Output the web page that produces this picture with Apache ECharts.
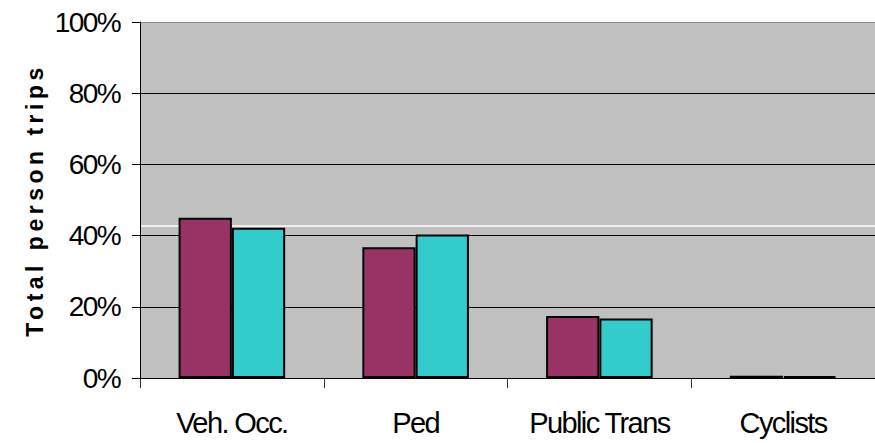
<!DOCTYPE html>
<html>
<head>
<meta charset="utf-8">
<script src="https://cdn.jsdelivr.net/npm/echarts@6/dist/echarts.min.js"></script>
<style>
  html, body { margin: 0; padding: 0; background: #fff; }
  #chart { width: 875px; height: 443px; }
  /* spaced-out lettering for the bold axis title, tighter lettering for tick labels */
  #chart svg text[style*="bold"] { letter-spacing: 4.5px; }
  #chart svg text:not([style*="bold"]) { letter-spacing: -1.6px; }
</style>
</head>
<body>
<div id="chart"></div>
<script>
// Trip mode categories
const categories = ['Veh. Occ.', 'Ped', 'Public Trans', 'Cyclists'];
// Share of total person trips (%), two survey series
const seriesA = [45.0, 36.7, 17.4, 0.6];
const seriesB = [42.2, 40.3, 16.7, 0.5];
// Y-axis tick values (%)
const yTicks = [0, 20, 40, 60, 80, 100];
// Light reference rule across the plot, behind the bars (%)
const refLine = 42.8;

const FONT = '"Liberation Sans", Arial, sans-serif';
const CLEAR = 'rgba(0,0,0,0)';

const chart = echarts.init(document.getElementById('chart'), null, { renderer: 'svg' });

chart.setOption({
  animation: false,
  backgroundColor: '#ffffff',
  grid: {
    left: 140, right: 0, top: 22, bottom: 65,
    show: true, backgroundColor: '#c0c0c0', borderWidth: 0
  },
  xAxis: {
    type: 'category',
    data: categories,
    axisLine: { lineStyle: { color: '#000', width: 1 } },
    axisTick: { show: true, length: 10, lineStyle: { color: '#333' } },
    axisLabel: { color: '#000', fontSize: 29, fontFamily: FONT, margin: 30, interval: 0 }
  },
  yAxis: [
    {
      type: 'value',
      min: yTicks[0],
      max: yTicks[yTicks.length - 1],
      interval: yTicks[1] - yTicks[0],
      name: 'Total person trips',
      nameLocation: 'middle',
      nameRotate: 90,
      nameGap: 94,
      nameMoveOverlap: false,
      nameTextStyle: { color: '#000', fontSize: 23, fontWeight: 'bold', fontFamily: FONT },
      axisLine: { show: true, lineStyle: { color: '#000', width: 1 } },
      axisTick: { show: true, length: 8, lineStyle: { color: '#000' } },
      axisLabel: { color: '#000', fontSize: 28, fontFamily: FONT, margin: 20, formatter: v => v + '%' },
      splitLine: {
        show: true,
        lineStyle: { color: ['#000', '#000', '#000', '#000', '#000', '#8a8a8a'], width: 1 }
      },
      z: 1
    },
    {
      // hidden helper axis: its only visible split line is the white rule
      type: 'value',
      position: 'left',
      min: yTicks[0],
      max: yTicks[yTicks.length - 1],
      interval: refLine,
      axisLine: { show: false },
      axisTick: { show: false },
      axisLabel: { show: false },
      splitLine: {
        show: true,
        lineStyle: { color: [CLEAR, '#ffffff', CLEAR, CLEAR], width: 1.5 }
      },
      z: 0
    }
  ],
  series: [
    {
      type: 'bar',
      data: seriesA,
      z: 3,
      barGap: '0%',
      barCategoryGap: '42%',
      itemStyle: { color: '#993366', borderColor: '#000', borderWidth: 2 }
    },
    {
      type: 'bar',
      data: seriesB,
      z: 3,
      itemStyle: { color: '#33cccc', borderColor: '#000', borderWidth: 2 }
    }
  ]
});
</script>
</body>
</html>
